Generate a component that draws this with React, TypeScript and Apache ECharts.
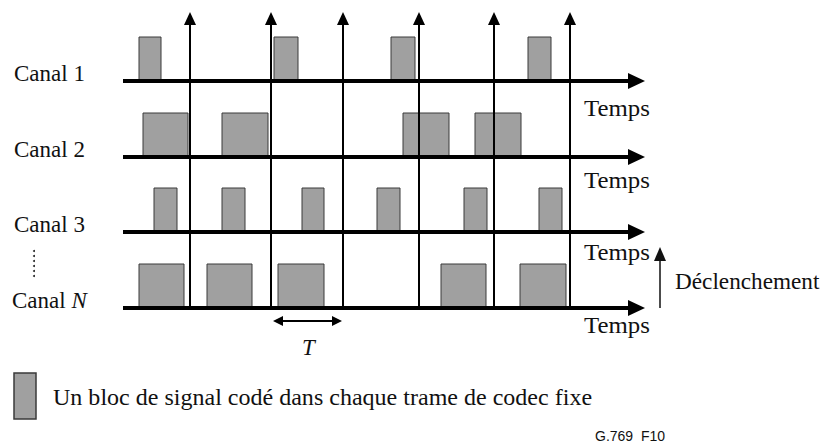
import React, { useEffect, useRef } from "react";
import * as echarts from "echarts";

// Time axis in arbitrary units (0 = start of channel axes), y axis in row units (inverted)
const channelNames = ["Canal 1", "Canal 2", "Canal 3", "Canal N"];
const channelBaselines = [8.1, 15.7, 23.2, 30.8];
const blockHeight = 4.4;
const canal1Blocks = [[1.6, 3.8], [15.1, 17.5], [26.8, 29.2], [40.5, 42.8]];
const canal2Blocks = [[2.0, 6.5], [9.9, 14.5], [28.0, 32.6], [35.2, 39.8]];
const canal3Blocks = [[3.1, 5.4], [9.9, 12.2], [17.9, 20.1], [25.4, 27.7], [34.1, 36.4], [41.6, 43.9]];
const canalNBlocks = [[1.6, 6.1], [8.4, 12.9], [15.5, 20.1], [31.8, 36.3], [39.7, 44.3]];
const triggerTimes = [6.7, 14.8, 22.0, 29.6, 37.1, 44.7];
const triggerTop = 1.2;
const axisStart = 0;
const axisEnd = 52.2;
const periodStart = 15.0;
const periodEnd = 21.9;
const periodLevel = 32.1;
const timeLabel = "Temps";
const periodLabel = "T";
const triggerLabel = "Déclenchement";
const legendLabel = "Un bloc de signal codé dans chaque trame de codec fixe";
const figureId = "G.769  F10";

const allBlocks = [canal1Blocks, canal2Blocks, canal3Blocks, canalNBlocks];

const SERIF = "'Liberation Serif', 'Times New Roman', serif";
const BLOCK_FILL = "#a0a0a0";
const BLOCK_STROKE = "#3a3a3a";

export default function App() {
  const ref = useRef<HTMLDivElement>(null);

  useEffect(() => {
    document.body.style.margin = "0";
    if (!ref.current) return;
    const chart = echarts.init(ref.current, undefined, { renderer: "svg" });

    const blockData: number[][] = [];
    allBlocks.forEach((blocks, ci) => {
      blocks.forEach(([s, e]) => blockData.push([s, e, channelBaselines[ci]]));
    });
    const axisData = channelBaselines.map((b) => [axisStart, axisEnd, b]);
    const triggerData = triggerTimes.map((t) => [t, triggerTop, channelBaselines[channelBaselines.length - 1]]);

    const textEl = (text: string, x: number, y: number, extra: any = {}, scaleX = 1) => ({
      type: "text",
      x,
      y,
      scaleX,
      style: {
        text,
        fontFamily: SERIF,
        fontSize: 23,
        fill: "#111",
        verticalAlign: "middle",
        align: "left",
        ...extra,
      },
    });

    const labelYs = [73, 149, 224, 300];
    const tempsYs = [108, 180, 252, 325];

    const graphic: any[] = [];
    channelNames.forEach((name, i) => {
      if (name.endsWith(" N")) {
        graphic.push({
          type: "text",
          x: 12,
          y: labelYs[i],
          style: {
            text: "Canal {i|N}",
            fontFamily: SERIF,
            fontSize: 23,
            fill: "#111",
            verticalAlign: "middle",
            rich: { i: { fontStyle: "italic", fontFamily: SERIF, fontSize: 23, fill: "#111" } },
          },
        });
      } else {
        graphic.push(textEl(name, 14, labelYs[i]));
      }
      graphic.push(textEl(timeLabel, 584, tempsYs[i], {}, 1.08));
    });
    // vertical dots
    for (let k = 0; k < 6; k++) {
      graphic.push({ type: "circle", shape: { cx: 34, cy: 251 + k * 5, r: 1 }, style: { fill: "#222" } });
    }
    graphic.push(textEl(periodLabel, 302, 347, { fontStyle: "italic" }));
    graphic.push(textEl(triggerLabel, 675, 281, {}, 1.01));
    // Déclenchement arrow
    graphic.push({ type: "line", shape: { x1: 660, y1: 258, x2: 660, y2: 308 }, style: { stroke: "#111", lineWidth: 1.5 } });
    graphic.push({ type: "polygon", shape: { points: [[660, 247], [654, 261], [666, 261]] }, style: { fill: "#111" } });
    // legend
    graphic.push({ type: "rect", shape: { x: 14, y: 373, width: 22, height: 46 }, style: { fill: BLOCK_FILL, stroke: BLOCK_STROKE, lineWidth: 1.5 } });
    graphic.push(textEl(legendLabel, 53, 397, {}, 1.045));
    graphic.push({
      type: "text",
      x: 595,
      y: 436,
      style: { text: figureId, fontFamily: "'Liberation Sans', Arial, sans-serif", fontSize: 14, fill: "#111", verticalAlign: "middle" },
    });

    chart.setOption({
      animation: false,
      grid: { left: 0, right: 0, top: 0, bottom: 0 },
      xAxis: { type: "value", min: -12.3, max: 70.1, show: false },
      yAxis: { type: "value", min: 0, max: 44.3, inverse: true, show: false },
      graphic,
      series: [
        {
          type: "custom",
          name: "blocks",
          data: blockData,
          renderItem: (params: any, api: any) => {
            const base = api.value(2);
            const p0 = api.coord([api.value(0), base - blockHeight]);
            const p1 = api.coord([api.value(1), base]);
            return {
              type: "rect",
              shape: { x: p0[0], y: p0[1], width: p1[0] - p0[0], height: p1[1] - p0[1] },
              style: { fill: BLOCK_FILL, stroke: BLOCK_STROKE, lineWidth: 1 },
            };
          },
        },
        {
          type: "custom",
          name: "triggers",
          data: triggerData,
          renderItem: (params: any, api: any) => {
            const top = api.coord([api.value(0), api.value(1)]);
            const bot = api.coord([api.value(0), api.value(2)]);
            return {
              type: "group",
              children: [
                { type: "line", shape: { x1: top[0], y1: top[1] + 10, x2: bot[0], y2: bot[1] }, style: { stroke: "#000", lineWidth: 2 } },
                { type: "polygon", shape: { points: [[top[0], top[1]], [top[0] - 6, top[1] + 13], [top[0] + 6, top[1] + 13]] }, style: { fill: "#000" } },
              ],
            };
          },
        },
        {
          type: "custom",
          name: "axes",
          data: axisData,
          renderItem: (params: any, api: any) => {
            const a = api.coord([api.value(0), api.value(2)]);
            const b = api.coord([api.value(1), api.value(2)]);
            return {
              type: "group",
              children: [
                { type: "line", shape: { x1: a[0], y1: a[1], x2: b[0] - 12, y2: b[1] }, style: { stroke: "#000", lineWidth: 4 } },
                { type: "polygon", shape: { points: [[b[0], b[1]], [b[0] - 17, b[1] - 8], [b[0] - 17, b[1] + 8]] }, style: { fill: "#000" } },
              ],
            };
          },
        },
        {
          type: "custom",
          name: "period",
          data: [[periodStart, periodEnd, periodLevel]],
          renderItem: (params: any, api: any) => {
            const a = api.coord([api.value(0), api.value(2)]);
            const b = api.coord([api.value(1), api.value(2)]);
            return {
              type: "group",
              children: [
                { type: "line", shape: { x1: a[0] + 6, y1: a[1], x2: b[0] - 6, y2: b[1] }, style: { stroke: "#000", lineWidth: 2 } },
                { type: "polygon", shape: { points: [[a[0], a[1]], [a[0] + 10, a[1] - 5], [a[0] + 10, a[1] + 5]] }, style: { fill: "#000" } },
                { type: "polygon", shape: { points: [[b[0], b[1]], [b[0] - 10, b[1] - 5], [b[0] - 10, b[1] + 5]] }, style: { fill: "#000" } },
              ],
            };
          },
        },
      ],
    });

    return () => chart.dispose();
  }, []);

  return <div ref={ref} style={{ width: 824, height: 443, background: "#fff" }} />;
}
